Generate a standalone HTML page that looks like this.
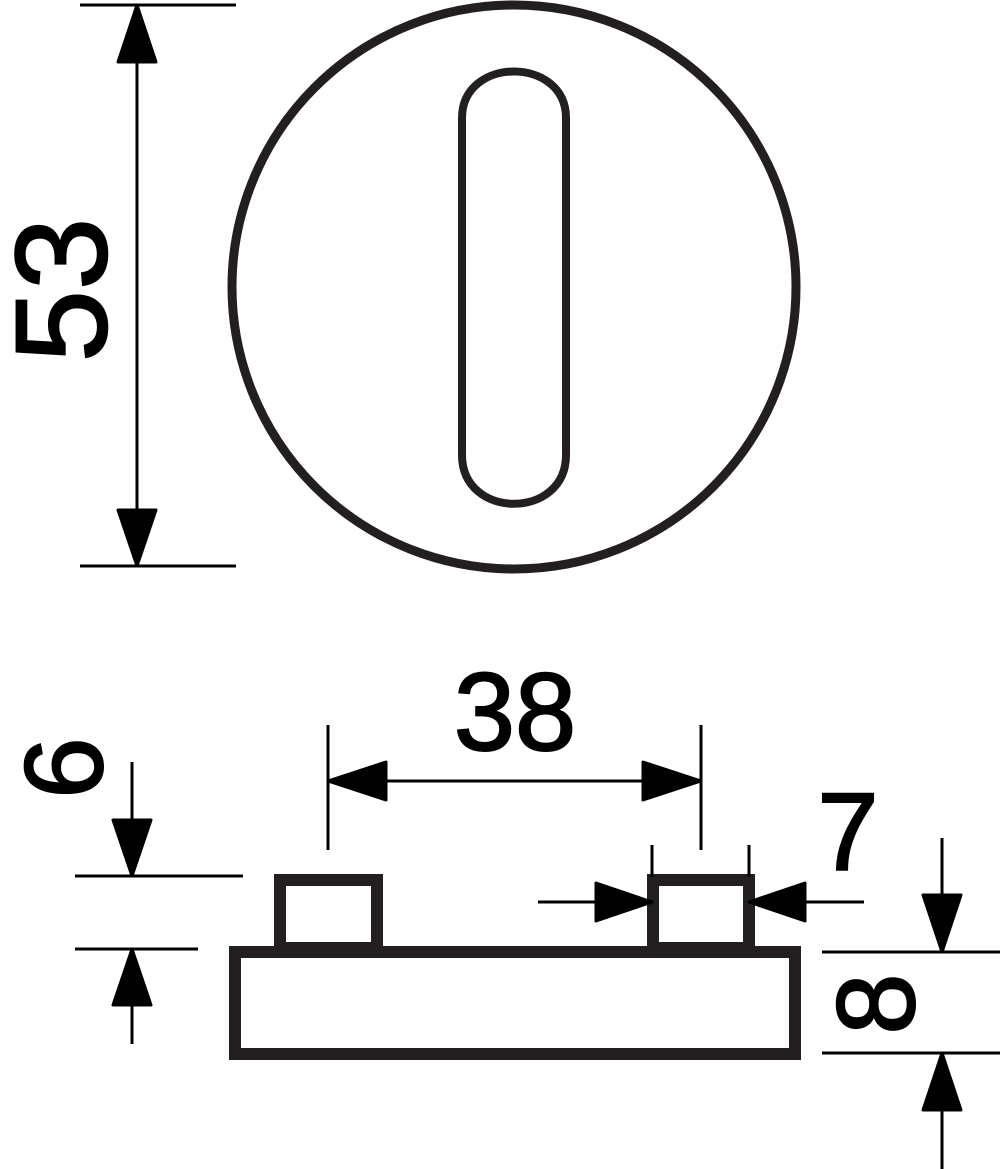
<!DOCTYPE html>
<html><head><style>html,body{margin:0;padding:0;background:#fff}svg{display:block}</style></head>
<body>
<svg width="1000" height="1169" viewBox="0 0 1000 1169" xmlns="http://www.w3.org/2000/svg" font-family="Liberation Sans, sans-serif">
<g fill="none" stroke="#231f20">
<ellipse cx="514" cy="287" rx="282" ry="282" stroke-width="9"/>
<path d="M462 118 C462 56 566 56 566 118 L566 455 C566 520 462 520 462 455 Z" stroke-width="8"/>
<rect x="235" y="952" width="560" height="102" stroke-width="12"/>
<rect x="280" y="880" width="97" height="68" stroke-width="12"/>
<rect x="653" y="880" width="96" height="68" stroke-width="12"/>
</g>
<g stroke="#000" stroke-width="3">
<line x1="80" y1="5" x2="236" y2="5"/><line x1="80" y1="566" x2="236" y2="566"/>
<line x1="137" y1="5" x2="137" y2="566"/>
<line x1="328" y1="725" x2="328" y2="850"/><line x1="701" y1="725" x2="701" y2="850"/>
<line x1="328" y1="781" x2="701" y2="781"/>
<line x1="75" y1="876" x2="243" y2="876"/><line x1="75" y1="949" x2="198" y2="949"/>
<line x1="132" y1="762" x2="132" y2="876"/><line x1="132" y1="949" x2="132" y2="1044"/>
<line x1="652" y1="845" x2="652" y2="877"/><line x1="749" y1="845" x2="749" y2="877"/>
<line x1="538" y1="902" x2="652" y2="902"/><line x1="749" y1="902" x2="864" y2="902"/>
<line x1="822" y1="952" x2="1000" y2="952"/><line x1="822" y1="1053" x2="1000" y2="1053"/>
<line x1="942" y1="838" x2="942" y2="952"/><line x1="942" y1="1053" x2="942" y2="1169"/>
</g>
<g fill="#000" stroke="#000" stroke-width="3" stroke-linejoin="round">
<polygon points="137,5 118,62 156,62"/><polygon points="137,566 118,510 156,510"/>
<polygon points="328,781 386,762 386,800"/><polygon points="701,781 643,762 643,800"/>
<polygon points="132,876 113,820 151,820"/><polygon points="132,949 113,1005 151,1005"/>
<polygon points="652,902 596,883 596,921"/><polygon points="749,902 805,883 805,921"/>
<polygon points="942,952 923,895 961,895"/><polygon points="942,1053 923,1110 961,1110"/>
</g>
<g fill="#000" stroke="#000" stroke-width="2" font-size="130">
<text transform="translate(106,290) rotate(-90)" text-anchor="middle">53</text>
<text x="515" y="750" text-anchor="middle" font-size="110">38</text>
<text transform="translate(102,768) rotate(-90)" text-anchor="middle" font-size="110">6</text>
<text x="848" y="870" text-anchor="middle" font-size="110">7</text>
<text transform="translate(914,1004) rotate(-90)" text-anchor="middle" font-size="110">8</text>
</g>
</svg>
</body></html>
